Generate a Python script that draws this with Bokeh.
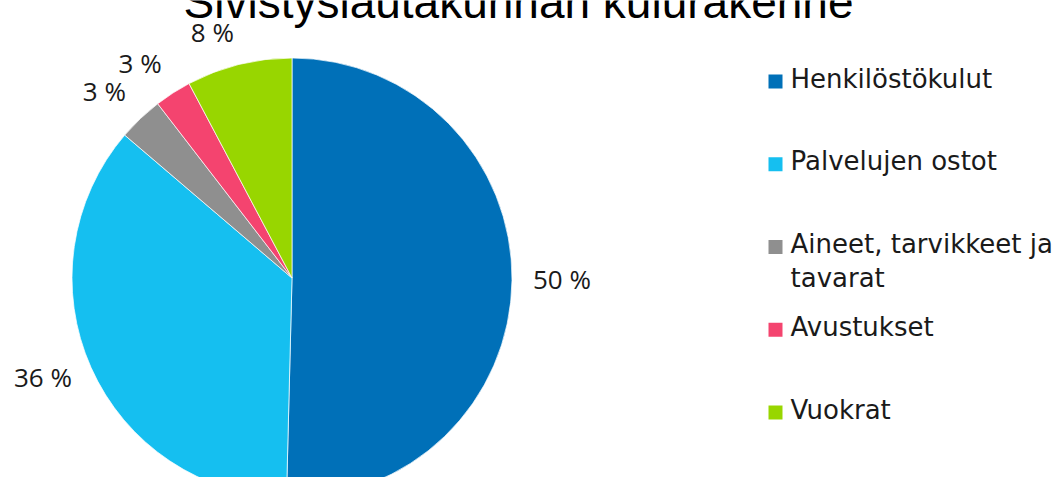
import numpy as np
from bokeh.plotting import figure
from bokeh.models import Range1d, ColumnDataSource
from bokeh.core.properties import value
from bokeh.embed import file_html
from bokeh.resources import INLINE

# ---- data ----
title_text = "Sivistyslautakunnan kulurakenne"
categories = ["Henkilöstökulut", "Palvelujen ostot", "Aineet, tarvikkeet ja tavarat",
              "Avustukset", "Vuokrat"]
legend_labels = ["Henkilöstökulut", "Palvelujen ostot", "Aineet, tarvikkeet ja\ntavarat",
                 "Avustukset", "Vuokrat"]
values = [50.4, 35.85, 3.3, 2.7, 7.75]
colors = ["#0070B8", "#15BFF0", "#8F8F8F", "#F4446F", "#98D600"]

# ---- layout (data units = screen pixels, y downward as negative) ----
W, H = 1055, 477
CX, CY, R = 291.5, -277.5, 220

p = figure(width=W, height=H, output_backend="svg", toolbar_location=None,
           x_range=Range1d(0, W), y_range=Range1d(-H, 0),
           x_axis_type=None, y_axis_type=None, min_border=0)
p.grid.visible = False
p.outline_line_color = None
p.background_fill_color = "white"
p.border_fill_color = "white"

vals = np.array(values, dtype=float)
frac = vals / vals.sum()
cum_end = np.cumsum(frac)
cum_start = cum_end - frac
a_start = np.pi / 2 - 2 * np.pi * cum_end
a_end = np.pi / 2 - 2 * np.pi * cum_start

src = ColumnDataSource(dict(start=a_start, end=a_end, color=colors, cat=categories))
p.wedge(x=CX, y=CY, radius=R, start_angle="start", end_angle="end",
        fill_color="color", line_color="white", line_width=0.7, source=src)

# percentage labels, outside end: the label box's nearest corner/edge touches
# a point on the slice's mid-angle ray just outside the pie
labels = [f"{int(round(f * 100))} %" for f in frac]
fs = 26
mid = (a_start + a_end) / 2
lx, ly = [], []
for m, lab in zip(mid, labels):
    ndig = len(lab) - 2
    hw = fs * (0.572 * ndig + 0.26 + 0.823) / 2
    c, s = np.cos(m), np.sin(m)
    hh = 10 if s > 0 else 3
    px, py = CX + (R + 21) * c, CY + (R + 21) * s
    lx.append(px + hw * np.clip(5 * c, -1, 1))
    ly.append(py + hh * np.clip(3 * s, -1, 1) + 2.5)
p.text(x=lx, y=ly, text=labels, text_align="center", text_baseline="middle",
       text_font=value("Open Sans"), text_font_size=f"{fs}px", text_color="#1a1a1a")

# title (partly cut off at the top, as in the reference)
p.text(x=[518], y=[-1], text=[title_text], text_align="center", text_baseline="alphabetic",
       text_font=value("Liberation Sans"), text_font_size="46px", text_color="black")

# legend
sq0, step = -81, -82.75
sq_y = [sq0 + step * i for i in range(len(categories))]
p.rect(x=[775] * len(categories), y=sq_y, width=14, height=14, fill_color=colors, line_color=None)
tx, ty, tt = [], [], []
for y, lab in zip(sq_y, legend_labels):
    for j, line in enumerate(lab.split("\n")):
        tx.append(790)
        ty.append(y + 3 - 34 * j)
        tt.append(line)
p.text(x=tx, y=ty, text=tt, text_align="left", text_baseline="alphabetic",
       text_font=value("DejaVu Sans"), text_font_size="26px", text_color="#1a1a1a")

open("out.html", "w").write(file_html(p, INLINE))
